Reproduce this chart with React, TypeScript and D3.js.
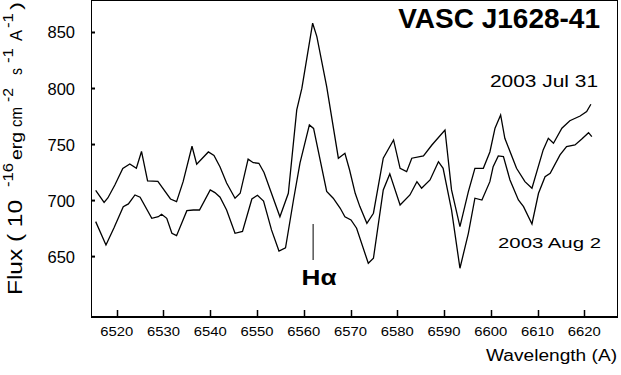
import React, { useRef, useEffect } from "react";
import * as d3 from "d3";

// spectrum 2003 Jul 31 (upper)
const julWave = [
  6515.5, 6517.3, 6518.1, 6519.6, 6521.3, 6522.8, 6524.2, 6525.3, 6526.6, 6528.8,
  6531.5, 6532.8, 6534.2, 6536.1, 6537.1, 6539.6, 6540.8, 6542.1, 6543.5, 6545.3,
  6546.4, 6548.1, 6549.2, 6550.4, 6551.5, 6554.9, 6556.7, 6558.5, 6559.6, 6561.9,
  6562.8, 6564.9, 6567.4, 6568.8, 6569.8, 6571.0, 6572.0, 6573.5, 6574.9, 6577.0,
  6579.2, 6580.6, 6582.0, 6583.1, 6585.6, 6587.4, 6590.2, 6591.6, 6593.4, 6595.2,
  6596.6, 6598.4, 6599.8, 6600.9, 6602.1, 6603.0, 6605.5, 6607.3, 6608.8, 6611.2,
  6612.3, 6613.4, 6615.2, 6616.9, 6619.1, 6620.5, 6621.4,
];
const julFlux = [
  709.0, 698.3, 702.3, 713.9, 728.7, 732.7, 728.8, 743.8, 717.5, 717.1,
  701.4, 699.0, 716.9, 748.5, 732.5, 743.4, 740.3, 730.0, 715.7, 702.1,
  706.5, 737.0, 733.8, 733.3, 725.1, 685.6, 706.5, 780.9, 800.3, 858.3,
  846.3, 801.7, 737.8, 742.2, 727.3, 706.5, 694.6, 679.7, 688.7, 737.8,
  754.1, 728.8, 725.8, 737.8, 739.8, 749.6, 763.0, 709.5, 676.7, 708.0,
  728.8, 728.8, 743.4, 764.6, 776.4, 755.6, 728.8, 716.9, 711.0, 745.2,
  755.6, 751.2, 764.6, 771.3, 775.5, 779.4, 786.0,
];

// spectrum 2003 Aug 2 (lower)
const augWave = [
  6515.5, 6517.7, 6519.4, 6521.4, 6522.5, 6523.9, 6525.0, 6527.5, 6528.9, 6529.6,
  6530.7, 6531.8, 6532.8, 6535.0, 6536.4, 6537.7, 6540.0, 6541.0, 6542.1, 6543.5,
  6545.3, 6546.9, 6548.9, 6550.1, 6551.4, 6553.1, 6554.7, 6556.1, 6557.8, 6559.2,
  6561.2, 6562.1, 6564.9, 6566.3, 6567.8, 6568.8, 6570.1, 6571.3, 6573.8, 6574.9,
  6577.0, 6578.4, 6580.6, 6582.7, 6584.2, 6585.2, 6587.0, 6588.8, 6589.8, 6591.6,
  6593.4, 6595.2, 6596.6, 6598.1, 6599.8, 6600.5, 6601.6, 6602.7, 6604.1, 6605.9,
  6607.0, 6608.8, 6610.2, 6611.6, 6612.7, 6614.8, 6616.2, 6618.0, 6619.4, 6620.9,
  6621.6,
];
const augFlux = [
  681.2, 660.4, 675.5, 694.6, 697.0, 705.0, 703.0, 684.2, 685.6, 687.8,
  684.2, 670.8, 668.7, 691.0, 691.6, 691.6, 709.5, 707.1, 703.0, 691.6,
  670.8, 672.4, 701.4, 704.7, 699.6, 673.8, 655.0, 657.9, 700.5, 733.6,
  767.5, 764.4, 708.1, 702.1, 693.1, 685.6, 682.7, 675.3, 644.0, 648.5,
  709.5, 723.8, 696.1, 705.0, 716.9, 711.0, 718.4, 734.7, 728.8, 691.6,
  639.6, 670.8, 702.1, 700.5, 716.9, 730.3, 739.8, 739.2, 718.4, 700.5,
  694.6, 679.1, 706.5, 721.3, 724.4, 740.7, 748.1, 749.6, 754.7, 760.6,
  757.1,
];

const xTicks = [6520, 6530, 6540, 6550, 6560, 6570, 6580, 6590, 6600, 6610, 6620];
const yTicks = [650, 700, 750, 800, 850];
const hAlpha = 6562.0;

const App = () => {
  const svgRef = useRef(null);

  useEffect(() => {
    const svg = d3.select(svgRef.current);
    svg.selectAll("*").remove();

    const left = 91, right = 618, top = 0, bottom = 318;
    const x = d3.scaleLinear().domain([6514.5, 6627.2]).range([left, right]);
    const y = d3.scaleLinear().domain([595.2, 879]).range([bottom, top]);

    const font = "'Liberation Sans', Arial, sans-serif";

    // frame
    svg.append("rect")
      .attr("x", left + 0.5).attr("y", top + 0.5)
      .attr("width", right - left - 1).attr("height", bottom - top - 1)
      .attr("fill", "none").attr("stroke", "#000").attr("stroke-width", 1);
    svg.append("line")
      .attr("x1", left).attr("x2", right)
      .attr("y1", bottom - 1).attr("y2", bottom - 1)
      .attr("stroke", "#000").attr("stroke-width", 2);

    // ticks (inward)
    svg.selectAll(".xt").data(xTicks).enter().append("line")
      .attr("x1", (d) => Math.round(x(d)) + 0.5).attr("x2", (d) => Math.round(x(d)) + 0.5)
      .attr("y1", bottom - 1).attr("y2", bottom - 8)
      .attr("stroke", "#000").attr("stroke-width", 1.5);
    svg.selectAll(".yt").data(yTicks).enter().append("line")
      .attr("x1", left).attr("x2", left + 4)
      .attr("y1", (d) => y(d)).attr("y2", (d) => y(d))
      .attr("stroke", "#000").attr("stroke-width", 2);

    svg.selectAll(".xl").data(xTicks).enter().append("text")
      .attr("x", (d) => x(d) - 16.5).attr("y", 335.5)
      .attr("textLength", 33).attr("lengthAdjust", "spacingAndGlyphs")
      .style("font-family", font).style("font-size", "12px")
      .text((d) => d);
    svg.selectAll(".yl").data(yTicks).enter().append("text")
      .attr("x", 75).attr("y", (d) => y(d) + 6)
      .attr("text-anchor", "end")
      .style("font-family", font).style("font-size", "16.5px")
      .text((d) => d);

    // spectra
    const line = d3.line().x((d) => x(d[0])).y((d) => y(d[1]));
    [
      d3.zip(julWave, julFlux),
      d3.zip(augWave, augFlux),
    ].forEach((pts) => {
      svg.append("path")
        .datum(pts)
        .attr("d", line)
        .attr("fill", "none")
        .attr("stroke", "#000")
        .attr("stroke-width", 1.3);
    });

    // H-alpha marker
    svg.append("line")
      .attr("x1", x(hAlpha)).attr("x2", x(hAlpha))
      .attr("y1", 224).attr("y2", 260)
      .attr("stroke", "#000").attr("stroke-width", 1);
    svg.append("text")
      .attr("x", 301.5).attr("y", 285)
      .attr("textLength", 35).attr("lengthAdjust", "spacingAndGlyphs")
      .style("font-family", font).style("font-size", "22px").style("font-weight", "bold")
      .text("H\u03b1");

    // title and dates
    svg.append("text")
      .attr("x", 600).attr("y", 28).attr("text-anchor", "end")
      .style("font-family", font).style("font-size", "28px").style("font-weight", "bold")
      .text("VASC J1628-41");
    svg.append("text")
      .attr("x", 490).attr("y", 87)
      .attr("textLength", 108).attr("lengthAdjust", "spacingAndGlyphs")
      .style("font-family", font).style("font-size", "16px")
      .text("2003 Jul 31");
    svg.append("text")
      .attr("x", 498).attr("y", 248)
      .attr("textLength", 103).attr("lengthAdjust", "spacingAndGlyphs")
      .style("font-family", font).style("font-size", "15.5px")
      .text("2003 Aug 2");

    // x axis title
    svg.append("text")
      .attr("x", 486).attr("y", 361)
      .attr("textLength", 131).attr("lengthAdjust", "spacingAndGlyphs")
      .style("font-family", font).style("font-size", "16px")
      .text("Wavelength (A)");

    // y axis title, pieced together (superscripts)
    const ySegs = [
      { t: "Flux ( 10", from: 295, to: 200, sup: false },
      { t: "-16", from: 187, to: 163, sup: true },
      { t: "erg", from: 160, to: 132, sup: false },
      { t: "cm", from: 127, to: 107, sup: false },
      { t: "-2", from: 102, to: 88, sup: true },
      { t: "s", from: 75, to: 68, sup: false },
      { t: "-1", from: 63, to: 48, sup: true },
      { t: "A", from: 41, to: 30, sup: false },
      { t: "-1", from: 28, to: 13, sup: true },
      { t: ")", from: 10, to: 2, sup: false },
    ];
    ySegs.forEach((s) => {
      svg.append("text")
        .attr("transform", `translate(${s.sup ? 13 : 21.5}, ${s.from}) rotate(-90)`)
        .attr("textLength", s.from - s.to).attr("lengthAdjust", "spacingAndGlyphs")
        .style("font-family", font)
        .style("font-size", s.sup ? "14px" : s.t.length > 3 ? "20px" : "17px")
        .text(s.t);
    });
  }, []);

  return (
    <svg
      ref={svgRef}
      width={621}
      height={375}
      style={{ position: "absolute", left: 0, top: 0, background: "#fff" }}
    ></svg>
  );
};

export default App;
